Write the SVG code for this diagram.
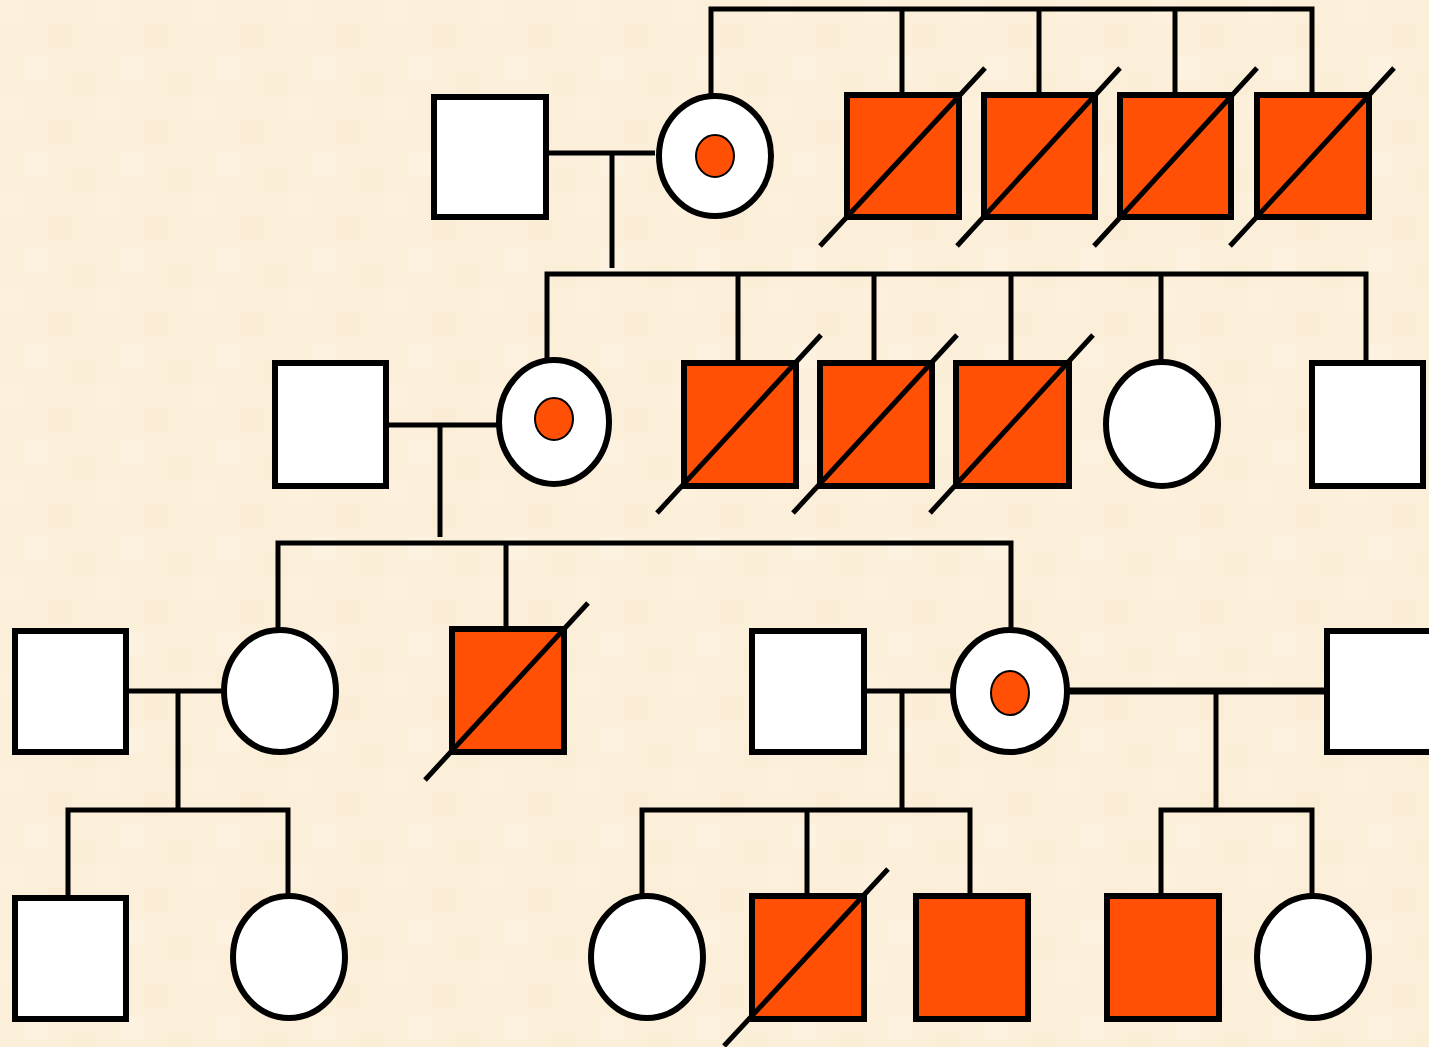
<svg xmlns="http://www.w3.org/2000/svg" width="1429" height="1047" viewBox="0 0 1429 1047">
<style>
.line{stroke:#000;stroke-width:5;fill:none;stroke-linecap:butt}
.thick{stroke:#000;stroke-width:7;fill:none}
.m{fill:#fff;stroke:#000;stroke-width:6}
.a{fill:#FF5005;stroke:#000;stroke-width:6}
.f{fill:#fff;stroke:#000;stroke-width:6}
.dot{fill:#FF5005;stroke:#000;stroke-width:2}
.dec{stroke:#000;stroke-width:5}
</style>
<defs>
<pattern id="bg" width="96" height="96" patternUnits="userSpaceOnUse">
<rect width="96" height="96" fill="#FCEFD9"/>
<rect x="0" y="0" width="24" height="24" fill="#FDF1DD"/>
<rect x="48" y="24" width="24" height="24" fill="#FBEDD5"/>
<rect x="24" y="56" width="24" height="24" fill="#FDF2DF"/>
<rect x="72" y="72" width="24" height="24" fill="#FBEED7"/>
</pattern>
</defs>
<rect width="1429" height="1047" fill="url(#bg)"/>
<g id="connectors">
<path class="line" d="M543 153H655M612 153V268"/>
<path class="line" d="M711 96V9H1312V94M902 9V94M1039 9V94M1175 9V94"/>
<path class="line" d="M547 360V274H1366V362M738 274V362M874 274V362M1011 274V362M1161 274V362"/>
<path class="line" d="M388 425H498M440 425V537"/>
<path class="line" d="M278 631V543H1011V631M506 543V628"/>
<path class="line" d="M127 691H224M178 691V808"/>
<path class="line" d="M864 691H955M902 691V808"/>
<path class="thick" d="M1068 691H1326"/>
<path class="line" d="M1216 691V808"/>
<path class="line" d="M68 897V810H288V897"/>
<path class="line" d="M642 897V810H970V895M807 810V895"/>
<path class="line" d="M1161 895V810H1312V897"/>
</g>
<g id="I-1"><rect class="m" x="434" y="97" width="112" height="120"/></g>
<g id="I-2"><ellipse class="f" cx="715" cy="156" rx="56" ry="60"/><ellipse class="dot" cx="715" cy="156" rx="19" ry="21"/></g>
<g id="I-3"><rect class="a" x="847" y="95" width="112" height="122"/><line class="dec" x1="820" y1="246" x2="985" y2="68"/></g>
<g id="I-4"><rect class="a" x="984" y="95" width="111" height="122"/><line class="dec" x1="957" y1="246" x2="1120" y2="68"/></g>
<g id="I-5"><rect class="a" x="1120" y="95" width="111" height="122"/><line class="dec" x1="1094" y1="246" x2="1257" y2="68"/></g>
<g id="I-6"><rect class="a" x="1257" y="95" width="112" height="122"/><line class="dec" x1="1230" y1="246" x2="1394" y2="68"/></g>

<g id="II-1"><rect class="m" x="275" y="363" width="111" height="123"/></g>
<g id="II-2"><ellipse class="f" cx="554" cy="422" rx="55" ry="62"/><ellipse class="dot" cx="554" cy="419" rx="19" ry="21"/></g>
<g id="II-3"><rect class="a" x="684" y="363" width="112" height="123"/><line class="dec" x1="657" y1="513" x2="821" y2="335"/></g>
<g id="II-4"><rect class="a" x="820" y="363" width="112" height="123"/><line class="dec" x1="793" y1="513" x2="957" y2="335"/></g>
<g id="II-5"><rect class="a" x="956" y="363" width="113" height="123"/><line class="dec" x1="930" y1="513" x2="1093" y2="335"/></g>
<g id="II-6"><ellipse class="f" cx="1162" cy="424" rx="56" ry="62"/></g>
<g id="II-7"><rect class="m" x="1312" y="363" width="111" height="123"/></g>

<g id="III-1"><rect class="m" x="15" y="631" width="111" height="121"/></g>
<g id="III-2"><ellipse class="f" cx="280" cy="691" rx="56" ry="61"/></g>
<g id="III-3"><rect class="a" x="452" y="629" width="112" height="123"/><line class="dec" x1="425" y1="780" x2="588" y2="603"/></g>
<g id="III-4"><rect class="m" x="752" y="631" width="112" height="121"/></g>
<g id="III-5"><ellipse class="f" cx="1010" cy="691" rx="57" ry="61"/><ellipse class="dot" cx="1010" cy="693" rx="19" ry="22"/></g>
<g id="III-6"><rect class="m" x="1327" y="631" width="120" height="121"/></g>

<g id="IV-1"><rect class="m" x="15" y="898" width="111" height="121"/></g>
<g id="IV-2"><ellipse class="f" cx="289" cy="957" rx="56" ry="61"/></g>
<g id="IV-3"><ellipse class="f" cx="647" cy="957" rx="56" ry="61"/></g>
<g id="IV-4"><rect class="a" x="752" y="896" width="112" height="123"/><line class="dec" x1="724" y1="1046" x2="888" y2="869"/></g>
<g id="IV-5"><rect class="a" x="916" y="896" width="112" height="123"/></g>
<g id="IV-6"><rect class="a" x="1107" y="896" width="112" height="123"/></g>
<g id="IV-7"><ellipse class="f" cx="1313" cy="957" rx="56" ry="61"/></g>
</svg>
